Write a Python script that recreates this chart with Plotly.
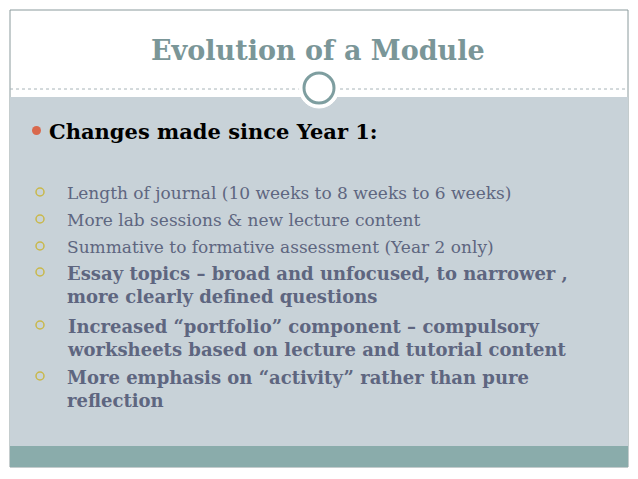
import plotly.graph_objects as go

# Slide content
title = "Evolution of a Module"
heading = "Changes made since Year 1:"
items = [
    "Length of journal (10 weeks to 8 weeks to 6 weeks)",
    "More lab sessions & new lecture content",
    "Summative to formative assessment (Year 2 only)",
    "Essay topics – broad and unfocused, to narrower ,<br>more clearly defined questions",
    "Increased “portfolio” component – compulsory<br>worksheets based on lecture and tutorial content",
    "More emphasis on “activity” rather than pure<br>reflection",
]
item_bold = [False, False, False, True, True, True]
item_top = [181, 208, 235, 261, 314, 365]

W, H = 638, 479
OFF = 8  # la page ajoute une marge de 8px
fig = go.Figure()

# fond du slide
fig.add_shape(type="rect", x0=10, x1=628, y0=10, y1=467, fillcolor="white",
              line=dict(color="#8a9a9c", width=1))
fig.add_shape(type="rect", x0=10, x1=628, y0=97, y1=446, fillcolor="#c8d2d8", line_width=0)
fig.add_shape(type="rect", x0=10, x1=628, y0=446, y1=467, fillcolor="#8aacab", line_width=0)
fig.add_shape(type="line", x0=10, x1=628, y0=89, y1=89, line=dict(color="#a8b4b8", width=1, dash="dot"))
fig.add_shape(type="circle", x0=299, x1=339, y0=68, y1=108, fillcolor="white", line=dict(color="white", width=1))
fig.add_shape(type="circle", x0=304, x1=334, y0=73, y1=103, fillcolor="white", line=dict(color="#7e9ea0", width=3))

fig.add_annotation(x=318, y=50, text="<b>" + title + "</b>", showarrow=False,
                   font=dict(family="DejaVu Serif", size=27, color="#7a9698"))

# titre de section
fig.add_shape(type="circle", x0=32, x1=41, y0=126, y1=135, fillcolor="#d9694d", line_width=0)
fig.add_annotation(x=47, y=131, text="<b>" + heading + "</b>", showarrow=False, xanchor="left",
                   font=dict(family="DejaVu Serif", size=21, color="black"))

# sous-items
for txt, b, top in zip(items, item_bold, item_top):
    fig.add_shape(type="circle", x0=36, x1=44, y0=top + 7, y1=top + 15, fillcolor="rgba(0,0,0,0)",
                  line=dict(color="#c9b84a", width=1.5))
    size = 17
    if b:
        txt = "<b>" + txt + "</b>"
        size = 18
    fig.add_annotation(x=65, y=top, text=txt, showarrow=False, xanchor="left", yanchor="top",
                       align="left", font=dict(family="DejaVu Serif", size=size, color="#5e6680"))

fig.update_xaxes(range=[OFF, W + OFF], visible=False, fixedrange=True)
fig.update_yaxes(range=[H + OFF, OFF], visible=False, fixedrange=True)
fig.update_layout(width=W, height=H, margin=dict(l=0, r=0, t=0, b=0),
                  paper_bgcolor="white", plot_bgcolor="white", showlegend=False)

fig.write_html("out.html")
